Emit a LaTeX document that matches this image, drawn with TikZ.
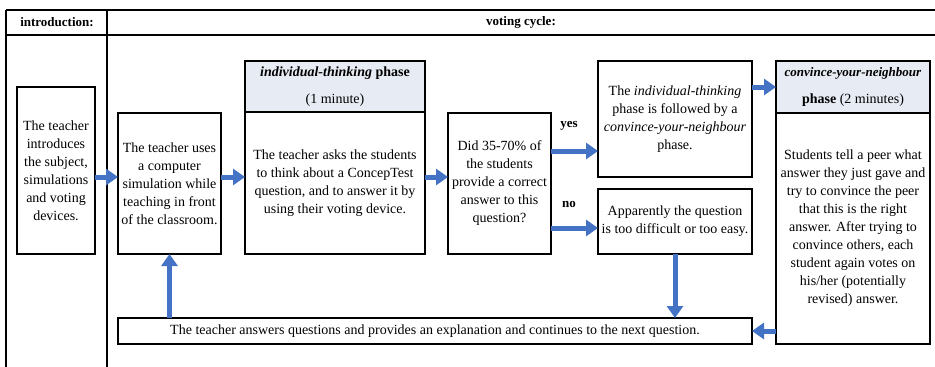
\documentclass[tikz,border=0pt]{standalone}
\usepackage{fontspec}
\setmainfont{Liberation Serif}
\usetikzlibrary{arrows.meta,positioning}

\definecolor{flowblue}{RGB}{68,114,196}
\definecolor{headgray}{RGB}{231,236,244}

\tikzset{
  txt/.style={font=\fontsize{14}{18}\selectfont},
  box/.style={draw,line width=1.2pt,align=center,inner sep=1pt,outer sep=0pt,txt},
  headbox/.style={box,fill=headgray},
  rule/.style={line width=1.6pt},
  flow/.style={flowblue,line width=5pt,-{Triangle[width=16pt,length=12pt]}},
  answerlabel/.style={font=\fontsize{13}{18}\selectfont\bfseries}
}

\begin{document}
\begin{tikzpicture}[x=1pt,y=-1pt]
    \useasboundingbox (0,0) rectangle (935,367);
    % table round the picture
    \draw [rule] (6,10) -- (935,10);
    \draw [rule] (6,35) -- (935,35);
    \draw [rule] (6,10) -- (6,367);
    \draw [rule] (107,10) -- (107,367);
    \node [answerlabel] (introhead) at (57,22.5) {introduction:};
    \node [answerlabel] (cyclehead) at (521,22.5) {voting cycle:};

    % boxes
    \node [box,minimum width=78pt,minimum height=167pt] (intro) at (56,170.5)
        {The teacher\\introduces\\the subject,\\simulations\\and voting\\devices.};
    \node [box,minimum width=103pt,minimum height=141pt] (sim) at (169.5,183.5)
        {The teacher uses\\a computer\\simulation while\\teaching in front\\of the classroom.};
    \node [headbox,minimum width=180pt,minimum height=51pt] (thinkhead) at (335,86.5)
        {\textbf{\textit{individual-thinking} phase}\\[9pt](1 minute)};
    \node [box,minimum width=180pt,minimum height=142pt] (think) at (335,183)
        {The teacher asks the students\\to think about a ConcepTest\\question, and to answer it by\\using their voting device.};
    \node [box,minimum width=103pt,minimum height=141pt] (question) at (499.5,183.5)
        {Did 35-70\% of\\the students\\provide a correct\\answer to this\\question?};
    \node [box,minimum width=154pt,minimum height=116pt] (follow) at (675,119)
        {The \textit{individual-thinking}\\phase is followed by a\\\textit{convince-your-neighbour}\\phase.};
    \node [box,minimum width=154pt,minimum height=65pt] (wrong) at (675,221.5)
        {Apparently the question\\is too difficult or too easy.};
    \node [headbox,minimum width=154pt,minimum height=52pt] (convhead) at (853,87)
        {{\fontsize{13}{18}\selectfont\textbf{\textit{convince-your-neighbour}}}\\[9pt]\textbf{phase} (2 minutes)};
    \node [box,minimum width=154pt,minimum height=231pt] (conv) at (853,228.5)
        {Students tell a peer what\\answer they just gave and\\try to convince the peer\\that this is the right\\answer. After trying to\\convince others, each\\student again votes on\\his/her (potentially\\revised) answer.};
    \node [box,minimum width=634pt,minimum height=26pt] (answer) at (435,331)
        {The teacher answers questions and provides an explanation and continues to the next question.};

    % arrows
    \coordinate (row) at ([yshift=6.5pt]sim.west);
    \draw [flow] (row -| intro.east) -- (row -| sim.west);
    \draw [flow] (row -| sim.east) -- (row -| think.west);
    \draw [flow] (row -| think.east) -- (row -| question.west);
    \coordinate (yesrow) at ([yshift=32.5pt]question.east);
    \coordinate (norow) at ([yshift=-44.5pt]question.east);
    \draw [flow] (yesrow) -- (yesrow -| follow.west);
    \draw [flow] (norow) -- (norow -| wrong.west);
    \node [answerlabel] (yes) at (569,126) {yes};
    \node [answerlabel] (no) at (569,204) {no};
    \draw [flow] (follow.east |- convhead.west) -- (convhead.west);
    \draw [flow] (wrong.south) -- (wrong.south |- answer.north);
    \draw [flow] (conv.west |- answer.east) -- (answer.east);
    \draw [flow] (answer.north -| sim.south) -- (sim.south);
\end{tikzpicture}
\end{document}
